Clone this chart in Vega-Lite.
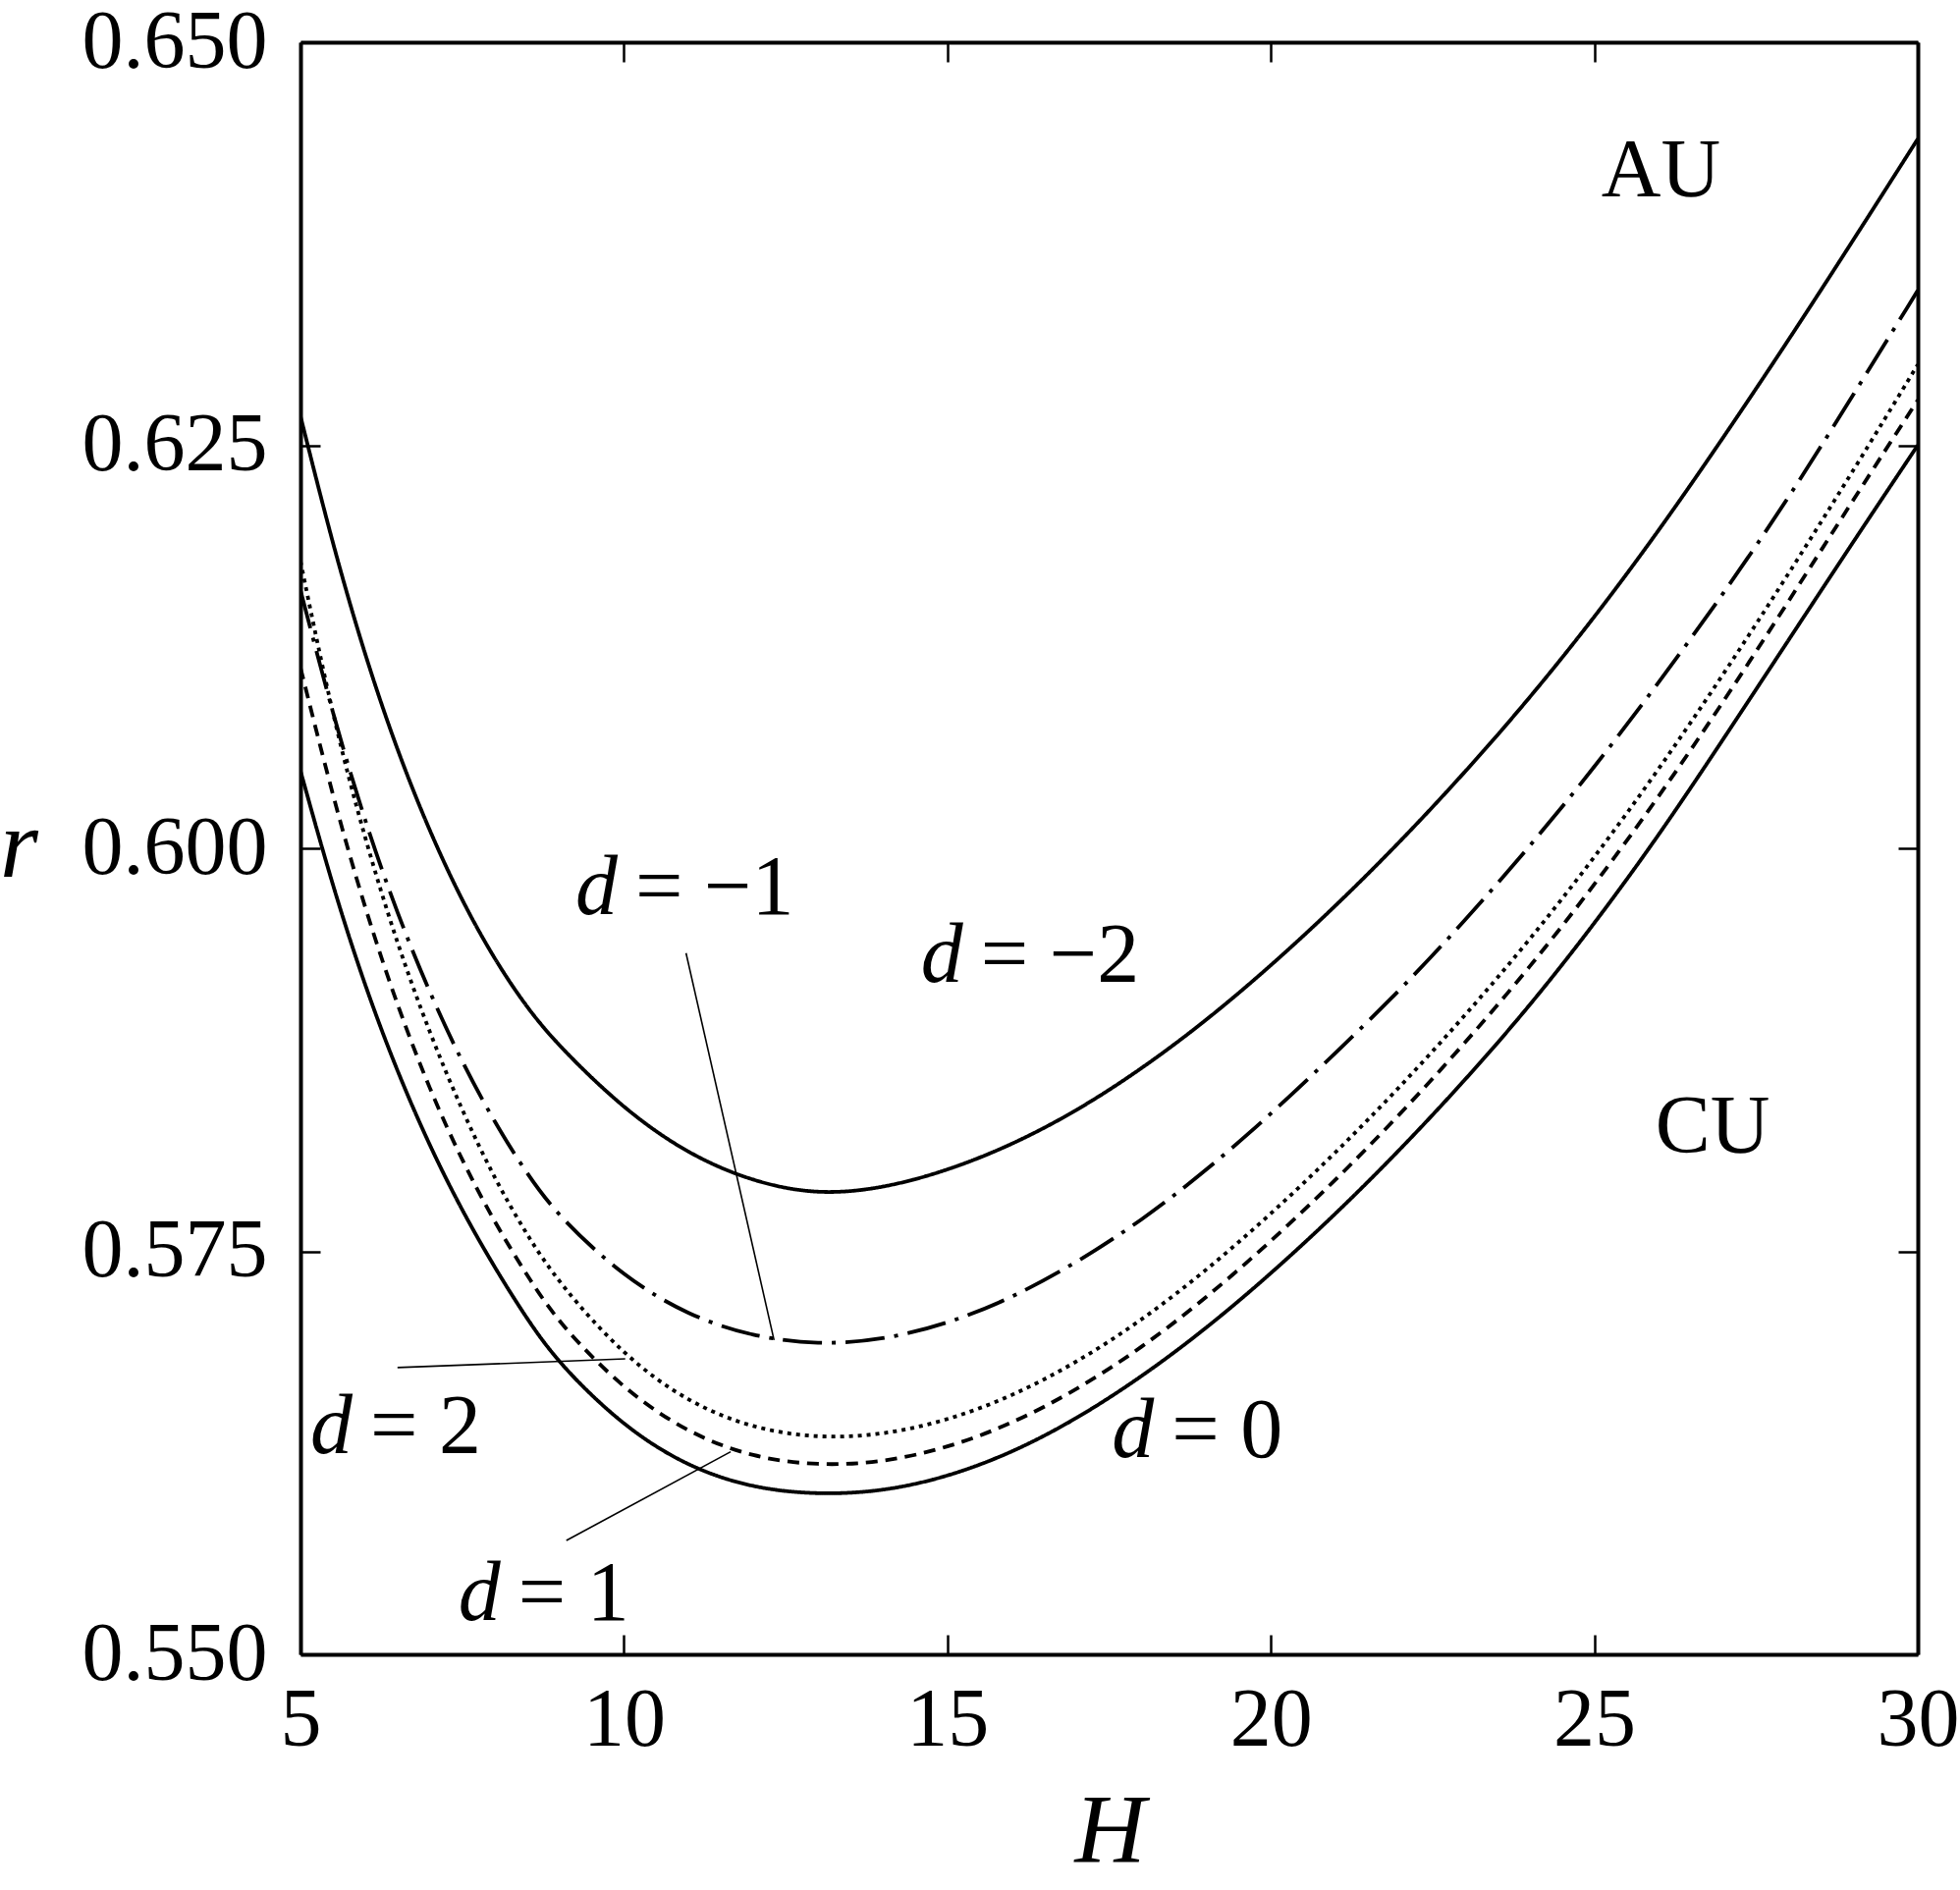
{
  "$schema": "https://vega.github.io/schema/vega-lite/v6.json",
  "width": 1647,
  "height": 1642,
  "autosize": {"type": "none"},
  "padding": {"left": 306, "top": 43, "right": 43, "bottom": 240},
  "background": "white",
  "config": {
    "view": {"stroke": null},
    "font": "Liberation Serif",
    "axis": {
      "grid": false,
      "domainColor": "black",
      "domainWidth": 4,
      "tickColor": "black",
      "tickWidth": 2.5,
      "tickSize": -20,
      "labelFont": "Liberation Serif",
      "labelFontSize": 84,
      "labelColor": "black",
      "labelLimit": 500,
      "labelFlush": false,
      "labelOverlap": false,
      "labelBound": false,
      "titleFont": "Liberation Serif",
      "titleFontSize": 100,
      "titleFontStyle": "italic",
      "titleFontWeight": "normal",
      "titleColor": "black"
    }
  },
  "datasets": {
    "curves": [
      {"d": "-2", "H": 5, "r": 0.6268}, {"d": "-2", "H": 5.5, "r": 0.6188}, {"d": "-2", "H": 6, "r": 0.6119},
      {"d": "-2", "H": 6.5, "r": 0.606}, {"d": "-2", "H": 7, "r": 0.601}, {"d": "-2", "H": 7.5, "r": 0.5967},
      {"d": "-2", "H": 8, "r": 0.5931}, {"d": "-2", "H": 8.5, "r": 0.5901}, {"d": "-2", "H": 9, "r": 0.5877},
      {"d": "-2", "H": 10, "r": 0.5838}, {"d": "-2", "H": 11, "r": 0.581}, {"d": "-2", "H": 12, "r": 0.5793},
      {"d": "-2", "H": 13, "r": 0.5785}, {"d": "-2", "H": 14, "r": 0.5789}, {"d": "-2", "H": 15, "r": 0.58},
      {"d": "-2", "H": 16, "r": 0.5816}, {"d": "-2", "H": 17, "r": 0.5837}, {"d": "-2", "H": 18, "r": 0.5863},
      {"d": "-2", "H": 19, "r": 0.5893}, {"d": "-2", "H": 20, "r": 0.5927}, {"d": "-2", "H": 21, "r": 0.5964},
      {"d": "-2", "H": 22, "r": 0.6004}, {"d": "-2", "H": 23, "r": 0.6047}, {"d": "-2", "H": 24, "r": 0.6093},
      {"d": "-2", "H": 25, "r": 0.6143}, {"d": "-2", "H": 26, "r": 0.6197}, {"d": "-2", "H": 27, "r": 0.6255},
      {"d": "-2", "H": 28, "r": 0.6315}, {"d": "-2", "H": 29, "r": 0.6377}, {"d": "-2", "H": 30, "r": 0.644},

      {"d": "-1", "H": 5, "r": 0.616}, {"d": "-1", "H": 5.5, "r": 0.6083}, {"d": "-1", "H": 6, "r": 0.6016},
      {"d": "-1", "H": 6.5, "r": 0.5959}, {"d": "-1", "H": 7, "r": 0.591}, {"d": "-1", "H": 7.5, "r": 0.5867},
      {"d": "-1", "H": 8, "r": 0.583}, {"d": "-1", "H": 8.5, "r": 0.5798}, {"d": "-1", "H": 9, "r": 0.5771},
      {"d": "-1", "H": 10, "r": 0.5734}, {"d": "-1", "H": 11, "r": 0.571}, {"d": "-1", "H": 12, "r": 0.5697},
      {"d": "-1", "H": 13, "r": 0.5692}, {"d": "-1", "H": 14, "r": 0.5695}, {"d": "-1", "H": 15, "r": 0.5705},
      {"d": "-1", "H": 16, "r": 0.5721}, {"d": "-1", "H": 17, "r": 0.5743}, {"d": "-1", "H": 18, "r": 0.5769},
      {"d": "-1", "H": 19, "r": 0.58}, {"d": "-1", "H": 20, "r": 0.5835}, {"d": "-1", "H": 21, "r": 0.5873},
      {"d": "-1", "H": 22, "r": 0.5912}, {"d": "-1", "H": 23, "r": 0.5955}, {"d": "-1", "H": 24, "r": 0.6001},
      {"d": "-1", "H": 25, "r": 0.605}, {"d": "-1", "H": 26, "r": 0.6103}, {"d": "-1", "H": 27, "r": 0.6158},
      {"d": "-1", "H": 28, "r": 0.6217}, {"d": "-1", "H": 29, "r": 0.6281}, {"d": "-1", "H": 30, "r": 0.6346},

      {"d": "2", "H": 5, "r": 0.6178}, {"d": "2", "H": 5.5, "r": 0.6081}, {"d": "2", "H": 6, "r": 0.6005},
      {"d": "2", "H": 6.5, "r": 0.594}, {"d": "2", "H": 7, "r": 0.5885}, {"d": "2", "H": 7.5, "r": 0.5837},
      {"d": "2", "H": 8, "r": 0.5795}, {"d": "2", "H": 8.5, "r": 0.576}, {"d": "2", "H": 9, "r": 0.573},
      {"d": "2", "H": 10, "r": 0.5685}, {"d": "2", "H": 11, "r": 0.5656}, {"d": "2", "H": 12, "r": 0.564},
      {"d": "2", "H": 13, "r": 0.5634}, {"d": "2", "H": 14, "r": 0.5636}, {"d": "2", "H": 15, "r": 0.5645},
      {"d": "2", "H": 16, "r": 0.566}, {"d": "2", "H": 17, "r": 0.5681}, {"d": "2", "H": 18, "r": 0.5707},
      {"d": "2", "H": 19, "r": 0.5738}, {"d": "2", "H": 20, "r": 0.5773}, {"d": "2", "H": 21, "r": 0.5811},
      {"d": "2", "H": 22, "r": 0.5852}, {"d": "2", "H": 23, "r": 0.5896}, {"d": "2", "H": 24, "r": 0.5943},
      {"d": "2", "H": 25, "r": 0.5994}, {"d": "2", "H": 26, "r": 0.6049}, {"d": "2", "H": 27, "r": 0.6108},
      {"d": "2", "H": 28, "r": 0.617}, {"d": "2", "H": 29, "r": 0.6234}, {"d": "2", "H": 30, "r": 0.63},

      {"d": "1", "H": 5, "r": 0.6112}, {"d": "1", "H": 5.5, "r": 0.6032}, {"d": "1", "H": 6, "r": 0.5962},
      {"d": "1", "H": 6.5, "r": 0.5902}, {"d": "1", "H": 7, "r": 0.585}, {"d": "1", "H": 7.5, "r": 0.5806},
      {"d": "1", "H": 8, "r": 0.5768}, {"d": "1", "H": 8.5, "r": 0.5735}, {"d": "1", "H": 9, "r": 0.5705},
      {"d": "1", "H": 10, "r": 0.5664}, {"d": "1", "H": 11, "r": 0.5637}, {"d": "1", "H": 12, "r": 0.5622},
      {"d": "1", "H": 13, "r": 0.5617}, {"d": "1", "H": 14, "r": 0.5619}, {"d": "1", "H": 15, "r": 0.5628},
      {"d": "1", "H": 16, "r": 0.5643}, {"d": "1", "H": 17, "r": 0.5664}, {"d": "1", "H": 18, "r": 0.569},
      {"d": "1", "H": 19, "r": 0.5721}, {"d": "1", "H": 20, "r": 0.5756}, {"d": "1", "H": 21, "r": 0.5794},
      {"d": "1", "H": 22, "r": 0.5835}, {"d": "1", "H": 23, "r": 0.5879}, {"d": "1", "H": 24, "r": 0.5926},
      {"d": "1", "H": 25, "r": 0.5977}, {"d": "1", "H": 26, "r": 0.6032}, {"d": "1", "H": 27, "r": 0.6091},
      {"d": "1", "H": 28, "r": 0.6153}, {"d": "1", "H": 29, "r": 0.6216}, {"d": "1", "H": 30, "r": 0.6278},

      {"d": "0", "H": 5, "r": 0.6048}, {"d": "0", "H": 5.5, "r": 0.5976}, {"d": "0", "H": 6, "r": 0.5914},
      {"d": "0", "H": 6.5, "r": 0.5861}, {"d": "0", "H": 7, "r": 0.5815}, {"d": "0", "H": 7.5, "r": 0.5775},
      {"d": "0", "H": 8, "r": 0.574}, {"d": "0", "H": 8.5, "r": 0.5708}, {"d": "0", "H": 9, "r": 0.568},
      {"d": "0", "H": 10, "r": 0.5641}, {"d": "0", "H": 11, "r": 0.5616}, {"d": "0", "H": 12, "r": 0.5603},
      {"d": "0", "H": 13, "r": 0.5599}, {"d": "0", "H": 14, "r": 0.5601}, {"d": "0", "H": 15, "r": 0.561},
      {"d": "0", "H": 16, "r": 0.5625}, {"d": "0", "H": 17, "r": 0.5646}, {"d": "0", "H": 18, "r": 0.5672},
      {"d": "0", "H": 19, "r": 0.5702}, {"d": "0", "H": 20, "r": 0.5736}, {"d": "0", "H": 21, "r": 0.5773},
      {"d": "0", "H": 22, "r": 0.5813}, {"d": "0", "H": 23, "r": 0.5856}, {"d": "0", "H": 24, "r": 0.5902},
      {"d": "0", "H": 25, "r": 0.5953}, {"d": "0", "H": 26, "r": 0.6008}, {"d": "0", "H": 27, "r": 0.6068},
      {"d": "0", "H": 28, "r": 0.6129}, {"d": "0", "H": 29, "r": 0.619}, {"d": "0", "H": 30, "r": 0.625}
    ],
    "pointers": [
      {"id": "m1", "H": 10.96, "r": 0.5935}, {"id": "m1", "H": 12.32, "r": 0.5695},
      {"id": "p2", "H": 6.5, "r": 0.56779}, {"id": "p2", "H": 10.02, "r": 0.56833},
      {"id": "p1", "H": 9.11, "r": 0.55706}, {"id": "p1", "H": 11.65, "r": 0.56257}
    ],
    "dlabels": [
      {"H": 15.41, "r": 0.59172, "lhs": "d", "rhs": "= −2"},
      {"H": 10.07, "r": 0.5959, "lhs": "d", "rhs": "= −1"},
      {"H": 5.97, "r": 0.5625, "lhs": "d", "rhs": "= 2"},
      {"H": 8.26, "r": 0.55216, "lhs": "d", "rhs": "= 1"},
      {"H": 18.36, "r": 0.56222, "lhs": "d", "rhs": "= 0"}
    ],
    "regions": [
      {"H": 26.03, "r": 0.64041, "name": "AU"},
      {"H": 26.83, "r": 0.58114, "name": "CU"}
    ]
  },
  "layer": [
    {
      "data": {"name": "curves"},
      "mark": {"type": "line", "color": "black", "strokeWidth": 3.8, "interpolate": "basis", "clip": true},
      "encoding": {
        "x": {
          "field": "H", "type": "quantitative",
          "scale": {"domain": [5, 30], "nice": false, "zero": false},
          "axis": {
            "orient": "bottom", "values": [5, 10, 15, 20, 25, 30], "format": "d",
            "labelPadding": 46, "title": "H", "titleAngle": 0,
            "titleX": 824, "titleY": 210, "titleAlign": "center", "titleBaseline": "alphabetic"
          }
        },
        "y": {
          "field": "r", "type": "quantitative",
          "scale": {"domain": [0.55, 0.65], "nice": false, "zero": false},
          "axis": {
            "orient": "left", "values": [0.55, 0.575, 0.6, 0.625, 0.65], "format": ".3f",
            "labelPadding": 54, "title": "r", "titleAngle": 0,
            "titleX": -287, "titleY": 849, "titleAlign": "center", "titleBaseline": "alphabetic"
          }
        },
        "strokeDash": {
          "field": "d", "type": "nominal",
          "scale": {
            "domain": ["-2", "-1", "0", "1", "2"],
            "range": [[1, 0], [40, 10, 4, 10], [1, 0], [12, 8], [4, 5]]
          },
          "legend": null
        }
      }
    },
    {
      "data": {"name": "pointers"},
      "mark": {"type": "line", "color": "black", "strokeWidth": 1.6},
      "encoding": {
        "x": {
          "field": "H", "type": "quantitative",
          "scale": {"domain": [5, 30], "nice": false, "zero": false},
          "axis": {"orient": "top", "values": [5, 10, 15, 20, 25, 30], "labels": false, "title": null}
        },
        "y": {
          "field": "r", "type": "quantitative",
          "scale": {"domain": [0.55, 0.65], "nice": false, "zero": false},
          "axis": {"orient": "right", "values": [0.55, 0.575, 0.6, 0.625, 0.65], "labels": false, "title": null}
        },
        "detail": {"field": "id"}
      }
    },
    {
      "data": {"name": "dlabels"},
      "mark": {"type": "text", "font": "Liberation Serif", "fontSize": 86, "fontStyle": "italic", "align": "right", "baseline": "alphabetic", "dx": -11, "color": "black"},
      "encoding": {
        "x": {"field": "H", "type": "quantitative", "axis": null},
        "y": {"field": "r", "type": "quantitative", "axis": null},
        "text": {"field": "lhs"}
      }
    },
    {
      "data": {"name": "dlabels"},
      "mark": {"type": "text", "font": "Liberation Serif", "fontSize": 86, "align": "left", "baseline": "alphabetic", "dx": 7, "color": "black"},
      "encoding": {
        "x": {"field": "H", "type": "quantitative", "axis": null},
        "y": {"field": "r", "type": "quantitative", "axis": null},
        "text": {"field": "rhs"}
      }
    },
    {
      "data": {"name": "regions"},
      "mark": {"type": "text", "font": "Liberation Serif", "fontSize": 84, "align": "center", "baseline": "alphabetic", "color": "black"},
      "encoding": {
        "x": {"field": "H", "type": "quantitative", "axis": null},
        "y": {"field": "r", "type": "quantitative", "axis": null},
        "text": {"field": "name"}
      }
    }
  ],
  "resolve": {"axis": {"x": "independent", "y": "independent"}}
}
